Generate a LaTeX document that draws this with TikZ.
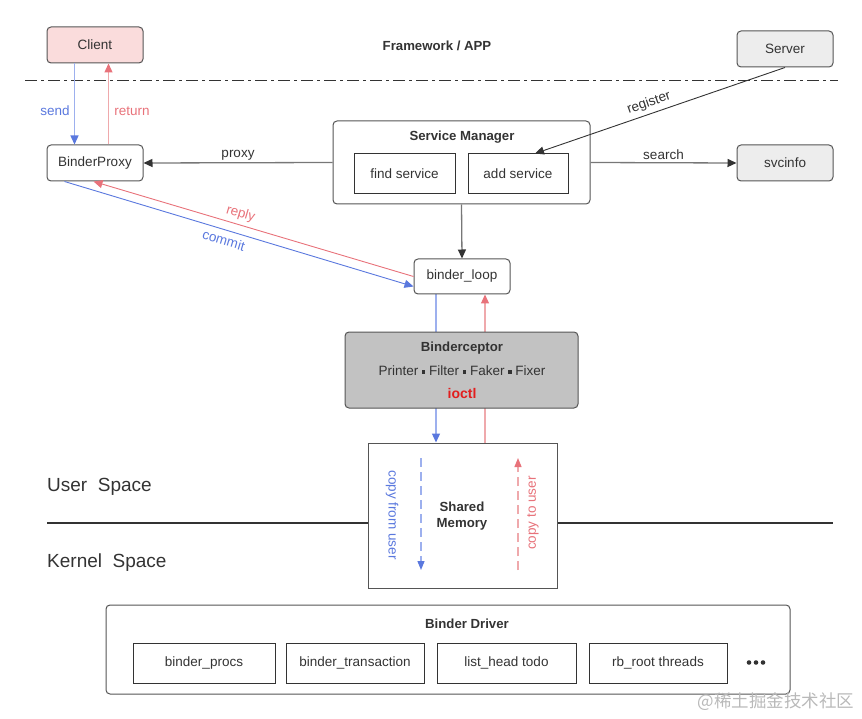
\documentclass[tikz,border=0pt]{standalone}
\usepackage{fontspec}
\setmainfont{Liberation Sans}
\newfontfamily\cjk{Noto Sans CJK SC}
\usetikzlibrary{arrows.meta,calc,backgrounds}
\definecolor{bdr}{HTML}{555555}
\definecolor{txt}{HTML}{333333}
\definecolor{conn}{HTML}{777777}
\definecolor{blueA}{HTML}{5A78DE}
\definecolor{blueL}{HTML}{9DB0EE}
\definecolor{redA}{HTML}{E8727A}
\definecolor{redL}{HTML}{EFA9AC}
\definecolor{pinkF}{HTML}{FADCDC}
\definecolor{grayF}{HTML}{EDEDED}
\definecolor{grayD}{HTML}{C2C2C2}
\newcommand\sqsep{\raisebox{0.3ex}{\rule{3.4pt}{3.4pt}}}
\begin{document}
\begin{tikzpicture}[x=1pt,y=-1pt,
  font=\fontsize{13.5}{16}\selectfont,
  box/.style={draw=bdr, line width=1pt, rounded corners=4pt, minimum width=96pt, minimum height=36pt, inner sep=0pt, text=txt},
  sqbox/.style={draw=txt, line width=1pt, minimum height=40pt, inner sep=0pt, text=txt},
  lbl/.style={inner sep=1pt, text=txt},
  ttl/.style={inner sep=0pt, text=txt, font=\fontsize{13.2}{16}\selectfont\bfseries},
  gconn/.style={draw=conn, line width=1.3pt, -{Triangle[length=9pt,width=8pt,color=txt]}},
  bluearr/.style={draw=blueL, line width=1.3pt, -{Triangle[length=9pt,width=8pt,color=blueA]}},
  redarr/.style={draw=redL, line width=1.3pt, -{Triangle[length=9pt,width=8pt,color=redA]}},
  thinblue/.style={draw=blueA, line width=0.9pt, -{Triangle[length=9pt,width=8pt,color=blueA]}},
  thinred/.style={draw=redA, line width=0.9pt, -{Triangle[length=9pt,width=8pt,color=redA]}},
  dotc/.style={circle, fill=txt, inner sep=0pt, minimum size=4.6pt},
]
\useasboundingbox (0,0) rectangle (862,719);

% top nodes
\node[box, fill=pinkF] (client) at (95,45) {Client};
\node[box, fill=grayF] (server) at (785,49) {Server};
\node[ttl] (fw) at (437,46) {Framework / APP};
\coordinate (dl) at (25,81);
\coordinate (dr) at (838,81);
\draw[txt, line width=1pt, dash pattern=on 12pt off 4pt on 3pt off 4pt] (dl) -- (dr);

\node[box] (bp) at (95,163) {BinderProxy};
\node[box, fill=grayF] (svc) at (785,163) {svcinfo};

% service manager
\node[box, minimum width=257pt, minimum height=83pt] (sm) at (461.5,162.5) {};
\node[ttl] (smt) at (462,137) {Service Manager};
\node[sqbox, minimum width=101pt] (find) at (404.5,174) {find service};
\node[sqbox, minimum width=100pt] (add) at (518,174) {add service};

\node[box, minimum height=35pt] (bl) at (462,276.5) {binder\_loop};

% binderceptor
\node[box, fill=grayD, minimum width=233pt, minimum height=76pt] (bc) at (461.5,370) {};
\node[ttl] (bct) at (462,348) {Binderceptor};
\node[lbl] (bcf) at (462,371) {Printer \sqsep{} Filter \sqsep{} Faker \sqsep{} Fixer};
\node[inner sep=0pt, text={rgb,255:red,226;green,30;blue,30}, font=\fontsize{14}{16}\selectfont\bfseries] (io) at (462,393) {ioctl};

% shared memory
\node[draw=bdr, line width=1pt, fill=white, minimum width=189pt, minimum height=145pt, inner sep=0pt] (shm) at (462.5,515.5) {};
\node[ttl, align=center, font=\fontsize{13.2}{16.5}\selectfont\bfseries] (shmt) at (462,516) {Shared\\Memory};

% spaces
\node[anchor=west, inner sep=0pt, text=txt, font=\fontsize{19}{22}\selectfont] (us) at (47,487) {User\ \ Space};
\node[anchor=west, inner sep=0pt, text=txt, font=\fontsize{19}{22}\selectfont] (ks) at (47,563) {Kernel\ \ Space};
\coordinate (hl) at (47,523);
\coordinate (hr) at (833,523);
\draw[txt, line width=1.8pt] (hl) -- (shm.west |- hl);
\draw[txt, line width=1.8pt] (shm.east |- hr) -- (hr);

% binder driver
\node[box, minimum width=684pt, minimum height=89pt] (bd) at (448,649.5) {};
\node[ttl] (bdt) at (467,624) {Binder Driver};
\node[sqbox, minimum width=142pt] (p1) at (204,663) {binder\_procs};
\node[sqbox, minimum width=138pt] (p2) at (355,663) {binder\_transaction};
\node[sqbox, minimum width=139pt] (p3) at (506.5,663) {list\_head todo};
\node[sqbox, minimum width=138pt] (p4) at (658,663) {rb\_root threads};
\node[dotc] (d1) at (749,662.5) {};
\node[dotc] (d2) at (756,662.5) {};
\node[dotc] (d3) at (763,662.5) {};

% connectors
\draw[bluearr] ($(client.south west)+(28,0)$) -- ($(bp.north west)+(28,0)$);
\draw[redarr] ($(bp.north west)+(62,0)$) -- ($(client.south west)+(62,0)$);
\node[text=blueA, inner sep=0pt] (send) at (55,111) {send};
\node[text=redA, inner sep=0pt] (ret) at (132,111) {return};

\draw[gconn] (sm.west) -- node[above, lbl, pos=0.5, yshift=1pt] {proxy} (bp.east);
\draw[gconn] (sm.east) -- node[above, lbl, pos=0.5, yshift=1pt] {search} (svc.west);
\draw[gconn] (sm.south) -- (bl.north);
\draw[draw=txt, line width=0.9pt, -{Triangle[length=9pt,width=8pt,color=txt]}] (server.south) -- node[sloped, above, lbl, pos=0.53, yshift=3pt] {register} ($(add.north)+(17,0)$);

\draw[thinblue] ($(bp.south west)+(18,0)$) -- node[sloped, below, pos=0.465, text=blueA, inner sep=2pt, yshift=-3pt] {commit} ($(bl.west)+(0,10)$);
\draw[thinred] (bl.west) -- node[sloped, above, pos=0.55, text=redA, inner sep=2pt, yshift=2pt] {reply} ($(bp.south west)+(47,0)$);

\begin{scope}[on background layer]
\draw[bluearr] ($(bl.south)+(-26,0)$) -- ($(shm.north)+(-26.5,0)$);
\draw[redarr] ($(shm.north)+(22.5,0)$) -- ($(bl.south)+(23,0)$);
\end{scope}

% inside shared memory
\coordinate (cfa) at (421,458);
\coordinate (cfb) at (421,570);
\coordinate (cta) at (518,570);
\coordinate (ctb) at (518,458);
\draw[draw=blueL, line width=1.3pt, dash pattern=on 9pt off 5pt, -{Triangle[length=9pt,width=7pt,color=blueA]}] (cfa) -- (cfb);
\draw[draw=redL, line width=1.3pt, dash pattern=on 9pt off 5pt, -{Triangle[length=9pt,width=7pt,color=redA]}] (cta) -- (ctb);
\node[rotate=-90, text=blueA, inner sep=0pt] (cfu) at (392,515) {copy from user};
\node[rotate=90, text=redA, inner sep=0pt] (ctu) at (533,513) {copy to user};

% watermark
\node[inner sep=0pt, text=gray!55, font=\cjk\fontsize{17.5}{19}\selectfont] (wm) at (776,702) {@稀土掘金技术社区};
\end{tikzpicture}
\end{document}
